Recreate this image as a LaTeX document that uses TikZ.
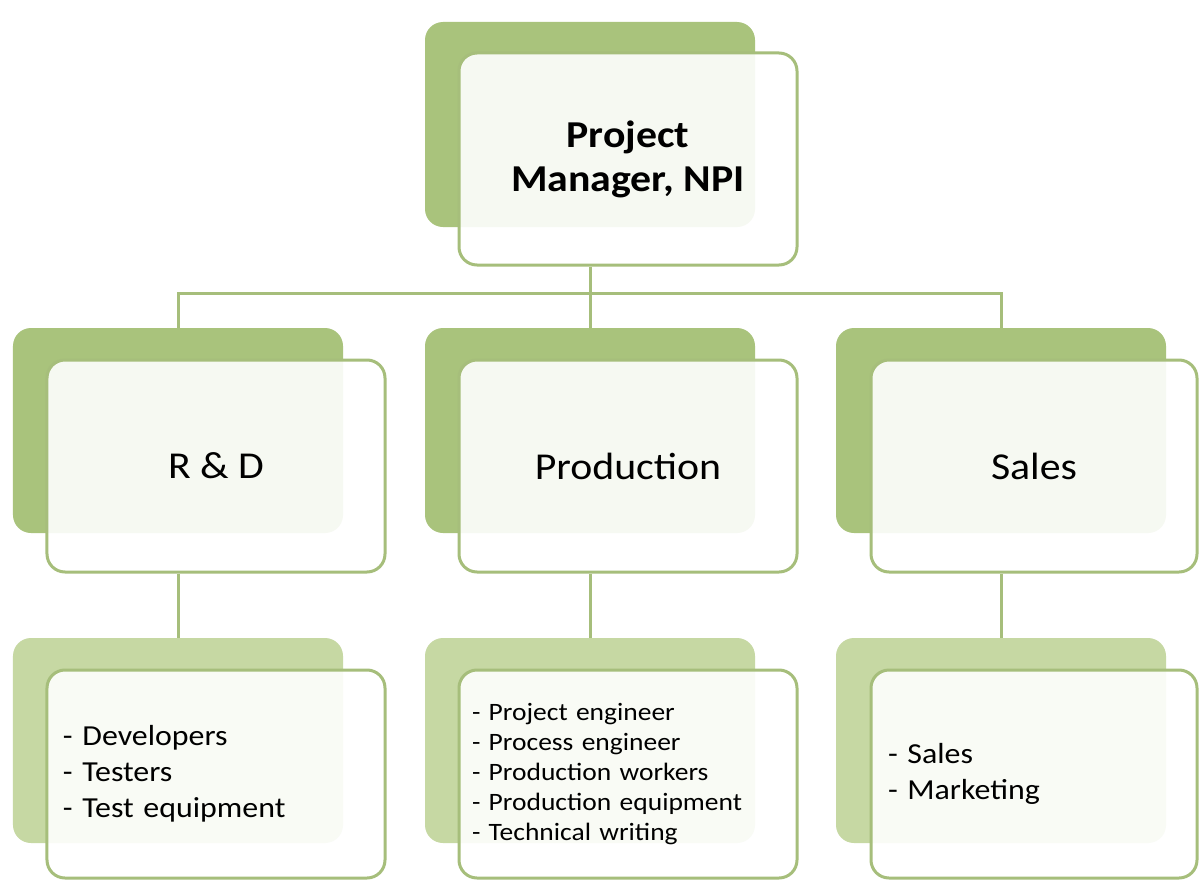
\documentclass[tikz,border=0pt]{standalone}
\usepackage{fontspec}
\setmainfont{Carlito}[FakeStretch=1.1]
\usepackage{tikz}

\definecolor{darkleaf}{HTML}{A9C37C}
\definecolor{paleleaf}{HTML}{C6D8A3}
\definecolor{edgeleaf}{HTML}{A6BE7B}

\tikzset{
	back/.style={rectangle, rounded corners=18bp, fill=#1, minimum width=330bp, minimum height=205bp, inner sep=0pt},
	front/.style={rectangle, rounded corners=18bp, draw=edgeleaf, line width=3bp, fill=white, fill opacity=0.9, text opacity=1, minimum width=338bp, minimum height=212bp, inner sep=0pt, align=center},
	listbox/.style={front, minimum height=208bp, text width=306bp, inner xsep=16bp, align=left},
	link/.style={draw=edgeleaf, line width=3bp}
}

\begin{document}
\begin{tikzpicture}[x=1bp, y=-1bp]
		\useasboundingbox[fill=white] (0, 0) rectangle (1199, 881);
		% top
		\node[back=darkleaf] (pmb) at (590, 124.5) {};
		\node[front, font=\fontsize{38bp}{44bp}\selectfont\bfseries] (pm) at (628, 159) {Project\\Manager, NPI};
		% middle row
		\node[back=darkleaf] (rdb) at (178, 430.5) {};
		\node[back=darkleaf] (prb) at (590, 430.5) {};
		\node[back=darkleaf] (sab) at (1001, 430.5) {};
		\node[front, font=\fontsize{38bp}{44bp}\selectfont] (rd) at (216, 466) {R \& D};
		\node[front, font=\fontsize{38bp}{44bp}\selectfont] (pr) at (628, 466) {Production};
		\node[front, minimum width=326bp, font=\fontsize{38bp}{44bp}\selectfont] (sa) at (1034, 466) {Sales};
		% bottom row
		\node[back=paleleaf] (rdlb) at (178, 740.5) {};
		\node[back=paleleaf] (prlb) at (590, 740.5) {};
		\node[back=paleleaf] (salb) at (1001, 740.5) {};
		\node[listbox, font=\fontsize{29bp}{36bp}\selectfont] (rdl) at (216, 774) {- Developers\\- Testers\\- Test equipment};
		\node[listbox, inner xsep=13bp, text width=312bp, font=\fontsize{25bp}{30bp}\selectfont] (prl) at (628, 774) {- Project engineer\\- Process engineer\\- Production workers\\- Production equipment\\- Technical writing};
		\node[listbox, minimum width=326bp, text width=292bp, inner xsep=17bp, font=\fontsize{29bp}{35.5bp}\selectfont] (sal) at (1034, 774) {- Sales\\- Marketing};
		% connectors
		\coordinate (bus) at (0, 293);
		\draw[link] (pmb.south |- pm.south) -- (prb.north);
		\draw[link] (rdb.north) |- (sab.north |- bus) -- (sab.north);
		\draw[link] (rdb.south |- rd.south) -- (rdlb.north);
		\draw[link] (prb.south |- pr.south) -- (prlb.north);
		\draw[link] (sab.south |- sa.south) -- (salb.north);
	\end{tikzpicture}
\end{document}
